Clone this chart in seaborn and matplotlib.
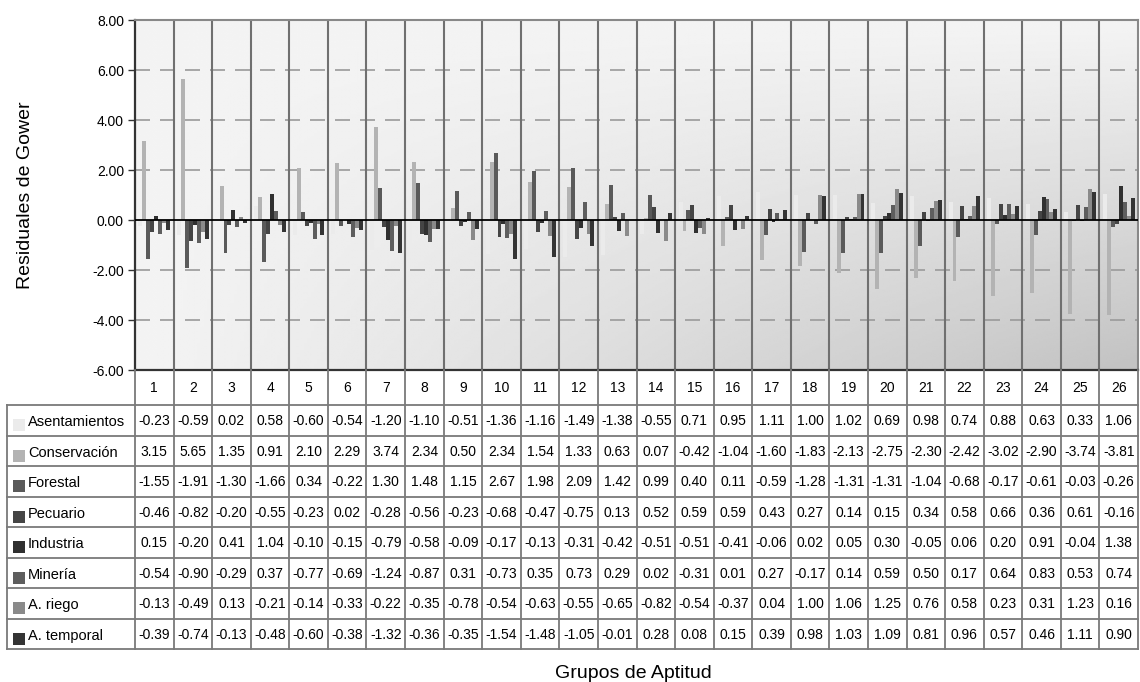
import numpy as np
import pandas as pd
import matplotlib
matplotlib.use("Agg")
import matplotlib.pyplot as plt
from matplotlib.patches import Rectangle
from matplotlib.ticker import FuncFormatter
import seaborn as sns

grupos = [str(i) for i in range(1, 27)]
series = ["Asentamientos", "Conservación", "Forestal", "Pecuario",
          "Industria", "Minería", "A. riego", "A. temporal"]
colores = ["#ebebeb", "#b3b3b3", "#5a5a5a", "#454545",
           "#303030", "#5e5e5e", "#8a8a8a", "#343434"]

asentamientos = [-0.23, -0.59, 0.02, 0.58, -0.60, -0.54, -1.20, -1.10, -0.51, -1.36, -1.16, -1.49, -1.38,
                 -0.55, 0.71, 0.95, 1.11, 1.00, 1.02, 0.69, 0.98, 0.74, 0.88, 0.63, 0.33, 1.06]
conservacion = [3.15, 5.65, 1.35, 0.91, 2.10, 2.29, 3.74, 2.34, 0.50, 2.34, 1.54, 1.33, 0.63,
                0.07, -0.42, -1.04, -1.60, -1.83, -2.13, -2.75, -2.30, -2.42, -3.02, -2.90, -3.74, -3.81]
forestal = [-1.55, -1.91, -1.30, -1.66, 0.34, -0.22, 1.30, 1.48, 1.15, 2.67, 1.98, 2.09, 1.42,
            0.99, 0.40, 0.11, -0.59, -1.28, -1.31, -1.31, -1.04, -0.68, -0.17, -0.61, -0.03, -0.26]
pecuario = [-0.46, -0.82, -0.20, -0.55, -0.23, 0.02, -0.28, -0.56, -0.23, -0.68, -0.47, -0.75, 0.13,
            0.52, 0.59, 0.59, 0.43, 0.27, 0.14, 0.15, 0.34, 0.58, 0.66, 0.36, 0.61, -0.16]
industria = [0.15, -0.20, 0.41, 1.04, -0.10, -0.15, -0.79, -0.58, -0.09, -0.17, -0.13, -0.31, -0.42,
             -0.51, -0.51, -0.41, -0.06, 0.02, 0.05, 0.30, -0.05, 0.06, 0.20, 0.91, -0.04, 1.38]
mineria = [-0.54, -0.90, -0.29, 0.37, -0.77, -0.69, -1.24, -0.87, 0.31, -0.73, 0.35, 0.73, 0.29,
           0.02, -0.31, 0.01, 0.27, -0.17, 0.14, 0.59, 0.50, 0.17, 0.64, 0.83, 0.53, 0.74]
a_riego = [-0.13, -0.49, 0.13, -0.21, -0.14, -0.33, -0.22, -0.35, -0.78, -0.54, -0.63, -0.55, -0.65,
           -0.82, -0.54, -0.37, 0.04, 1.00, 1.06, 1.25, 0.76, 0.58, 0.23, 0.31, 1.23, 0.16]
a_temporal = [-0.39, -0.74, -0.13, -0.48, -0.60, -0.38, -1.32, -0.36, -0.35, -1.54, -1.48, -1.05, -0.01,
              0.28, 0.08, 0.15, 0.39, 0.98, 1.03, 1.09, 0.81, 0.96, 0.57, 0.46, 1.11, 0.90]

valores = [asentamientos, conservacion, forestal, pecuario,
           industria, mineria, a_riego, a_temporal]

df = pd.DataFrame({
    "grupo": grupos * len(series),
    "serie": np.repeat(series, len(grupos)),
    "valor": np.concatenate(valores),
})

plt.rcParams["font.family"] = ["Liberation Sans", "DejaVu Sans"]
plt.rcParams["axes.unicode_minus"] = False

W, H = 1140, 682
fig = plt.figure(figsize=(W / 100, H / 100), dpi=100)

# plot area in pixels
px_l, px_r, px_t, px_b = 135, 1138, 20, 370
ax = fig.add_axes([px_l / W, 1 - px_b / H, (px_r - px_l) / W, (px_b - px_t) / H])

# gradient background (lighter top-left, darker bottom-right)
xx, yy = np.meshgrid(np.linspace(0, 1, 300), np.linspace(0, 1, 200))
grad = (0xf4 - 0x32 * xx * yy) / 255.0
ax.imshow(grad, extent=(-0.5, 25.5, -6, 8), aspect="auto", cmap="gray",
          vmin=0, vmax=1, zorder=0, interpolation="bilinear")

sns.barplot(data=df, x="grupo", y="valor", hue="serie", order=grupos,
            hue_order=series, palette=colores, saturation=1, width=0.82,
            errorbar=None, legend=False, ax=ax, linewidth=0, zorder=2)

ax.set_xlim(-0.5, 25.5)
ax.set_ylim(-6, 8)
ax.set_yticks(np.arange(-6, 8.1, 2))
ax.yaxis.set_major_formatter(FuncFormatter(lambda v, p: f"{v:.2f}"))
ax.tick_params(axis="y", direction="out", length=5, width=1, color="#333333",
               labelsize=10, labelcolor="black", pad=3)
ax.set_xticks([])
ax.set_xlabel("")
ax.set_ylabel("")

for yv in [-4, -2, 2, 4, 6]:
    ax.axhline(yv, color="#9a9a9a", lw=1.2, dashes=(9, 6), zorder=1)
ax.axhline(0, color="black", lw=1.3, zorder=3)
for i in range(25):
    ax.axvline(i + 0.5, color="#707070", lw=1.5, zorder=1.5)

ax.spines["left"].set_color("#333333")
ax.spines["left"].set_linewidth(1.6)
ax.spines["bottom"].set_color("#333333")
ax.spines["bottom"].set_linewidth(1.6)
ax.spines["top"].set_color("#888888")
ax.spines["top"].set_linewidth(1.5)
ax.spines["right"].set_color("#888888")
ax.spines["right"].set_linewidth(1.5)

# data table below the chart
tb_l, tb_b = 7, 649
unit = (px_r - px_l) / 26.0
x_left = -0.5 - (px_l - tb_l) / unit
tax = fig.add_axes([tb_l / W, 1 - tb_b / H, (px_r - tb_l) / W, (tb_b - px_b) / H])
tax.set_xlim(x_left, 25.5)
tax.set_ylim(tb_b, px_b)
tax.axis("off")

line_c = "#7a7a7a"
head_b = 405
row_h = (tb_b - head_b) / len(series)

for i in range(27):
    tax.plot([i - 0.5, i - 0.5], [px_b, tb_b], color=line_c, lw=1.3, clip_on=False)
tax.plot([x_left, x_left], [head_b, tb_b], color=line_c, lw=1.3, clip_on=False)
for k in range(len(series) + 1):
    yk = head_b + k * row_h
    tax.plot([x_left, 25.5], [yk, yk], color=line_c, lw=1.3, clip_on=False)

for i, g in enumerate(grupos):
    tax.text(i, (px_b + head_b) / 2 + 1, g, ha="center", va="center", fontsize=10)

for k, (nombre, col, vals) in enumerate(zip(series, colores, valores)):
    yc = head_b + (k + 0.5) * row_h
    tax.add_patch(Rectangle((x_left + 6 / unit, yc - 6 + 5), 12 / unit, 12,
                            facecolor=col, edgecolor="none"))
    tax.text(x_left + 21 / unit, yc + 2, nombre, ha="left", va="center", fontsize=10.5)
    for i, v in enumerate(vals):
        tax.text(i, yc + 1, f"{v:.2f}", ha="center", va="center", fontsize=10)

fig.text(26 / W, 1 - 195 / H, "Residuales de Gower", rotation=90,
         ha="center", va="center", fontsize=14)
fig.text(633 / W, 1 - 673 / H, "Grupos de Aptitud", ha="center", va="center",
         fontsize=14)

fig.savefig("out.png", dpi=100)
